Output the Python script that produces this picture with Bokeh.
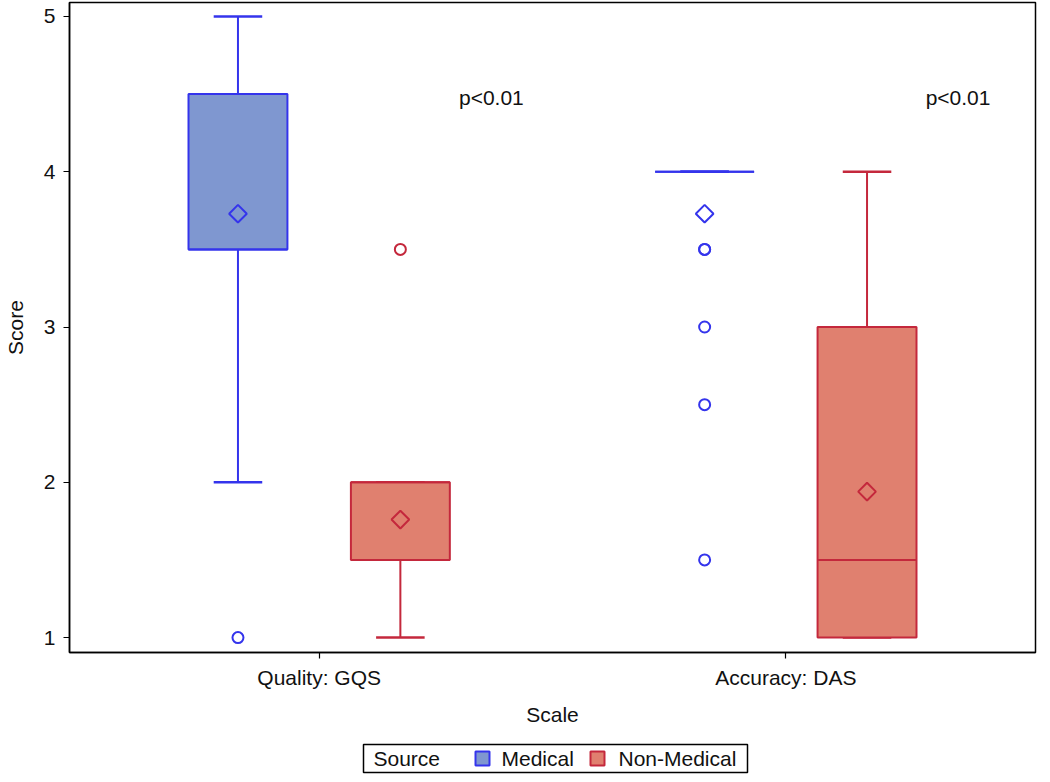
import math
from bokeh.plotting import figure
from bokeh.layouts import column
from bokeh.models import FactorRange, Range1d, ColumnDataSource, FixedTicker
from bokeh.transform import dodge
from bokeh.core.properties import value
from bokeh.embed import file_html
from bokeh.resources import INLINE

# ---------------- data ----------------
scales = ["Quality: GQS", "Accuracy: DAS"]
sources = ["Medical", "Non-Medical"]
legend_title = "Source"

# box summaries per scale
med_q1 = [3.5, 4.0]
med_median = [3.5, 4.0]
med_q3 = [4.5, 4.0]
med_low = [2.0, 4.0]
med_high = [5.0, 4.0]
med_mean = [3.73, 3.73]

non_q1 = [1.5, 1.0]
non_median = [2.0, 1.5]
non_q3 = [2.0, 3.0]
non_low = [1.0, 1.0]
non_high = [2.0, 4.0]
non_mean = [1.76, 1.94]

med_out_scale = ["Quality: GQS", "Accuracy: DAS", "Accuracy: DAS", "Accuracy: DAS", "Accuracy: DAS", "Accuracy: DAS"]
med_out_value = [1.0, 3.5, 3.5, 3.0, 2.5, 1.5]
non_out_scale = ["Quality: GQS"]
non_out_value = [3.5]

p_text = ["p<0.01", "p<0.01"]
p_level = [4.48, 4.48]

y_ticks = [1, 2, 3, 4, 5]

# ---------------- styles ----------------
FONT = "Liberation Sans"
FS = "21px"
TXT = "#111111"
MED_FILL, MED_LINE = "#7F97D0", "#3434EC"
NON_FILL, NON_LINE = "#E0806F", "#C4283C"
OFF = 0.174
BOX_W = 0.212
CAP_W = 0.104
BORDER_L, BORDER_R = 66, 2
FRAME_W, FRAME_H = 966, 650

p = figure(x_range=FactorRange(factors=scales, range_padding=0.035),
           y_range=Range1d(0.904, 5.09),
           frame_width=FRAME_W, frame_height=FRAME_H,
           min_border_left=BORDER_L, min_border_right=BORDER_R, min_border_top=2, min_border_bottom=0,
           output_backend="svg", toolbar_location=None)

p.xgrid.visible = False
p.ygrid.visible = False
p.outline_line_color = "black"
p.outline_line_width = 1.5
p.outline_line_alpha = 1

for ax in (p.xaxis[0], p.yaxis[0]):
    ax.axis_line_color = "black"
    ax.axis_line_width = 1.5
    ax.major_tick_line_color = "black"
    ax.major_tick_line_width = 1.2
    ax.major_tick_out = 6
    ax.major_tick_in = 0
    ax.minor_tick_line_color = None
    ax.major_label_text_font = FONT
    ax.major_label_text_font_size = FS
    ax.major_label_text_color = TXT
    ax.axis_label_text_font = FONT
    ax.axis_label_text_font_size = FS
    ax.axis_label_text_font_style = "normal"
    ax.axis_label_text_color = TXT

p.yaxis.ticker = FixedTicker(ticks=y_ticks)
p.yaxis.axis_label = "Score"
p.yaxis.major_label_standoff = 8
p.yaxis.axis_label_standoff = 14
p.xaxis.axis_label = "Scale"
p.xaxis.major_label_standoff = 7
p.xaxis.axis_label_standoff = 11

groups = [
    (-OFF, MED_FILL, MED_LINE, med_q1, med_median, med_q3, med_low, med_high, med_mean,
     med_out_scale, med_out_value),
    (OFF, NON_FILL, NON_LINE, non_q1, non_median, non_q3, non_low, non_high, non_mean,
     non_out_scale, non_out_value),
]
for off, fill, line, q1, med, q3, lo, hi, mean, oscale, oval in groups:
    src = ColumnDataSource(dict(scale=scales, q1=q1, med=med, q3=q3, lo=lo, hi=hi, mean=mean))
    xr = p.x_range
    p.segment(x0=dodge("scale", off, range=xr), x1=dodge("scale", off, range=xr),
              y0="q3", y1="hi", source=src, line_color=line, line_width=2)
    p.segment(x0=dodge("scale", off, range=xr), x1=dodge("scale", off, range=xr),
              y0="q1", y1="lo", source=src, line_color=line, line_width=2)
    p.segment(x0=dodge("scale", off - CAP_W / 2, range=xr), x1=dodge("scale", off + CAP_W / 2, range=xr),
              y0="hi", y1="hi", source=src, line_color=line, line_width=2.5)
    p.segment(x0=dodge("scale", off - CAP_W / 2, range=xr), x1=dodge("scale", off + CAP_W / 2, range=xr),
              y0="lo", y1="lo", source=src, line_color=line, line_width=2.5)
    p.vbar(x=dodge("scale", off, range=xr), width=BOX_W, top="q3", bottom="q1", source=src,
           fill_color=fill, line_color=line, line_width=2)
    p.segment(x0=dodge("scale", off - BOX_W / 2, range=xr), x1=dodge("scale", off + BOX_W / 2, range=xr),
              y0="med", y1="med", source=src, line_color=line, line_width=2)
    p.scatter(x=dodge("scale", off, range=xr), y="mean", source=src, marker="square",
              angle=math.pi / 4, size=12.5, fill_color=None, line_color=line, line_width=2)
    osrc = ColumnDataSource(dict(scale=oscale, v=oval))
    p.scatter(x=dodge("scale", off, range=xr), y="v", source=osrc, marker="circle",
              size=11, fill_color=None, line_color=line, line_width=2)

tsrc = ColumnDataSource(dict(scale=scales, y=p_level, t=p_text))
p.text(x=dodge("scale", 0.369, range=p.x_range), y="y", text="t", source=tsrc,
       text_font=value(FONT), text_font_size=FS, text_align="center",
       text_baseline="middle", text_color=TXT)

# ---------------- legend strip (own small figure, page-pixel coordinates) ----------------
LEG_H = 48
lg = figure(frame_width=FRAME_W, frame_height=LEG_H,
            x_range=Range1d(BORDER_L, BORDER_L + FRAME_W), y_range=Range1d(0, LEG_H),
            min_border_left=BORDER_L, min_border_right=BORDER_R, min_border_top=0, min_border_bottom=0,
            x_axis_location=None, y_axis_location=None,
            output_backend="svg", toolbar_location=None)
lg.xgrid.visible = False
lg.ygrid.visible = False
lg.outline_line_color = None
lg.quad(left=[360], right=[744], bottom=[4], top=[32], fill_color=None,
        line_color="black", line_width=1.5)
lg.quad(left=[472, 587], right=[486, 601], bottom=[11, 11], top=[25, 25],
        fill_color=[MED_FILL, NON_FILL], line_color=[MED_LINE, NON_LINE], line_width=2)
lg.text(x=[370, 498, 615], y=[18, 18, 18], text=[legend_title] + sources,
        text_font=value(FONT), text_font_size=FS, text_align="left",
        text_baseline="middle", text_color=TXT)

layout = column(p, lg, spacing=0)
open("out.html", "w").write(file_html(layout, INLINE))
